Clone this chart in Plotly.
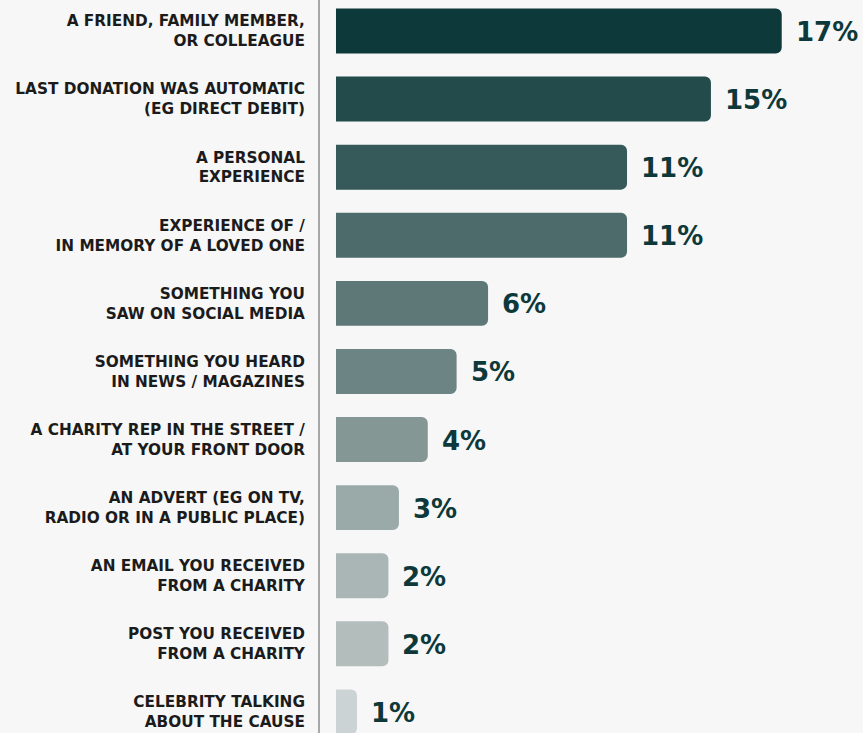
import plotly.graph_objects as go

categories = [
    "A FRIEND, FAMILY MEMBER,<br>OR COLLEAGUE",
    "LAST DONATION WAS AUTOMATIC<br>(EG DIRECT DEBIT)",
    "A PERSONAL<br>EXPERIENCE",
    "EXPERIENCE OF /<br>IN MEMORY OF A LOVED ONE",
    "SOMETHING YOU<br>SAW ON SOCIAL MEDIA",
    "SOMETHING YOU HEARD<br>IN NEWS / MAGAZINES",
    "A CHARITY REP IN THE STREET /<br>AT YOUR FRONT DOOR",
    "AN ADVERT (EG ON TV,<br>RADIO OR IN A PUBLIC PLACE)",
    "AN EMAIL YOU RECEIVED<br>FROM A CHARITY",
    "POST YOU RECEIVED<br>FROM A CHARITY",
    "CELEBRITY TALKING<br>ABOUT THE CAUSE",
]
values = [17.0, 14.3, 11.1, 11.1, 5.8, 4.6, 3.5, 2.4, 2.0, 2.0, 0.8]
value_labels = ["17%", "15%", "11%", "11%", "6%", "5%", "4%", "3%", "2%", "2%", "1%"]
colors = ["#0e393a", "#244b4c", "#365a5a", "#4d6b6b", "#5d7877", "#6c8483",
          "#849795", "#9aaaa9", "#a9b6b5", "#b2bdbc", "#ccd3d4"]

positions = list(range(len(categories)))

fig = go.Figure()
fig.add_trace(go.Bar(
    x=values, y=positions, orientation="h",
    marker=dict(color=colors, line=dict(width=0)),
    width=0.66, hoverinfo="skip",
))

for p, v, t in zip(positions, values, value_labels):
    fig.add_annotation(
        x=v, y=p, text=t, showarrow=False, xanchor="left", yanchor="middle",
        xshift=12, yshift=-1,
        font=dict(family="DejaVu Sans", size=26, color="#0e393a", weight=700),
    )

fig.update_layout(
    width=863, height=733,
    margin=dict(l=320, r=0, t=0, b=0),
    paper_bgcolor="#f7f7f7", plot_bgcolor="#f7f7f7",
    barcornerradius=6,
    showlegend=False,
    xaxis=dict(range=[-0.61, 20.1], visible=False, fixedrange=True),
    yaxis=dict(
        range=[10.31, -0.455], tickvals=positions, ticktext=categories,
        showline=True, linecolor="#a8a8a8", linewidth=2,
        showgrid=False, zeroline=False, ticks="", ticklabelstandoff=10,
        tickfont=dict(family="DejaVu Sans", size=15.3, color="#1b1b1b", weight=700),
        fixedrange=True,
    ),
)

fig.write_html("out.html")
